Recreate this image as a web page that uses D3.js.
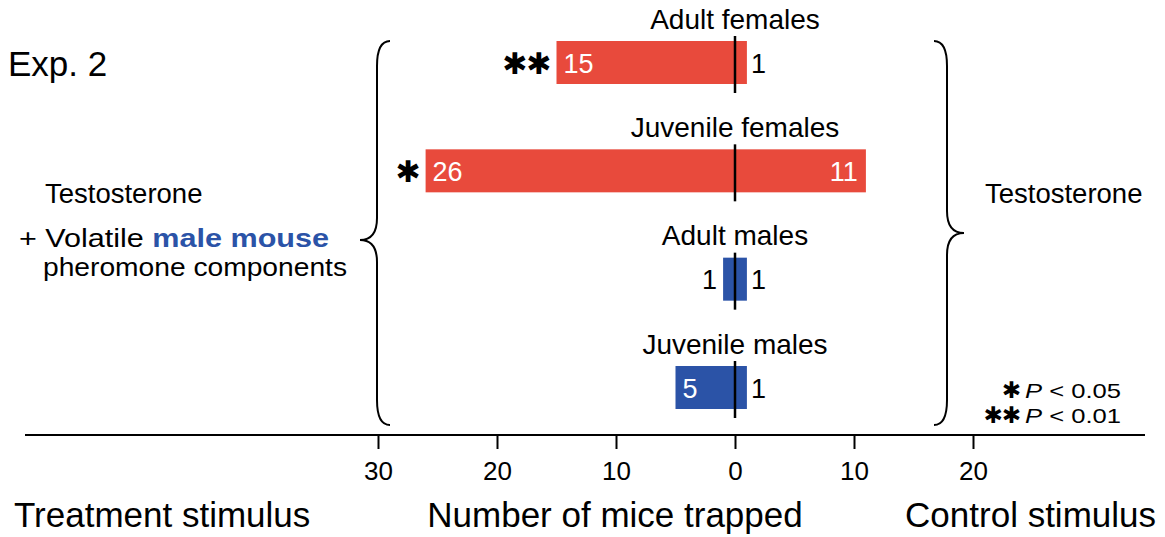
<!DOCTYPE html>
<html>
<head>
<style>
  body {
    background-color: white;
    margin: 0px;
  }
  text {
    font-family: "Liberation Sans", Arial, sans-serif;
    fill: black;
  }
  .star {
    font-family: "DejaVu Sans", sans-serif;
  }
</style>
<script src="https://d3js.org/d3.v7.min.js"></script>
</head>
<body>
  <svg></svg>
</body>
<script>
// data
const categories = ["Adult females", "Juvenile females", "Adult males", "Juvenile males"];
const treatment = [15, 26, 1, 5];
const control = [1, 11, 1, 1];
const signif = ["\u2731\u2731", "\u2731", "", ""];
const barColors = ["#e84a3c", "#e84a3c", "#2b53a7", "#2b53a7"];
const tickValues = [-30, -20, -10, 0, 10, 20];

const width = 1165,
    height = 537;

const svg = d3.select("svg")
    .attr("width", width)
    .attr("height", height)

// negative = treatment side (left)
const x = d3.scaleLinear().domain([-30, 20]).range([735 - 30 * 11.9, 735 + 20 * 11.9]);
const y = d3.scalePoint().domain(categories).range([62.5, 387.5]);
const barH = 43;

const rows = svg.selectAll("g.row")
    .data(categories)
  .enter().append("g")
    .attr("class", "row")
    .attr("transform", function(d) {return "translate(0," + y(d) + ")"});

rows.append("text")
    .attr("x", x(0))
    .attr("y", -34)
    .attr("text-anchor", "middle")
    .style("font-size", "28px")
    .text(function(d) {return d});

rows.append("rect")
    .attr("x", function(d, i) {return x(-treatment[i])})
    .attr("y", -barH / 2)
    .attr("width", function(d, i) {return x(control[i]) - x(-treatment[i])})
    .attr("height", barH)
    .style("fill", function(d, i) {return barColors[i]});

rows.append("line")
    .attr("x1", x(0)).attr("x2", x(0))
    .attr("y1", -barH / 2 - 5)
    .attr("y2", barH / 2 + 9)
    .style("stroke", "black")
    .style("stroke-width", 2.5);

// treatment count labels
rows.append("text")
    .attr("x", function(d, i) {
      return treatment[i] >= 3 ? x(-treatment[i]) + 7 : x(-treatment[i]) - 6;
    })
    .attr("y", 10)
    .attr("text-anchor", function(d, i) {return treatment[i] >= 3 ? "start" : "end"})
    .style("font-size", "27px")
    .style("fill", function(d, i) {return treatment[i] >= 3 ? "white" : "black"})
    .text(function(d, i) {return treatment[i]});

// control count labels
rows.append("text")
    .attr("x", function(d, i) {
      return control[i] >= 3 ? x(control[i]) - 8 : x(control[i]) + 4;
    })
    .attr("y", 10)
    .attr("text-anchor", function(d, i) {return control[i] >= 3 ? "end" : "start"})
    .style("font-size", "27px")
    .style("fill", function(d, i) {return control[i] >= 3 ? "white" : "black"})
    .text(function(d, i) {return control[i]});

rows.append("text")
    .attr("class", "star")
    .attr("x", function(d, i) {return x(-treatment[i]) - 6})
    .attr("y", 11)
    .attr("text-anchor", "end")
    .style("font-size", "30px")
    .style("letter-spacing", "-1px")
    .text(function(d, i) {return signif[i]});

// braces
function brace(xEnd, xSpine, xTip, yTop, yMid, yBot) {
  const p = d3.path();
  p.moveTo(xEnd, yTop);
  p.quadraticCurveTo(xSpine, yTop, xSpine, yTop + 25);
  p.lineTo(xSpine, yMid - 22);
  p.quadraticCurveTo(xSpine, yMid, xTip, yMid);
  p.quadraticCurveTo(xSpine, yMid, xSpine, yMid + 22);
  p.lineTo(xSpine, yBot - 25);
  p.quadraticCurveTo(xSpine, yBot, xEnd, yBot);
  return p.toString();
}
svg.append("path")
    .attr("d", brace(390, 377, 360, 41, 240, 425))
    .style("fill", "none").style("stroke", "black").style("stroke-width", 2);
svg.append("path")
    .attr("d", brace(934, 947, 964, 41, 233, 425))
    .style("fill", "none").style("stroke", "black").style("stroke-width", 2);

// axis
const axisY = 435;
svg.append("line")
    .attr("x1", 25).attr("x2", 1145)
    .attr("y1", axisY).attr("y2", axisY)
    .style("stroke", "black").style("stroke-width", 2);

const axis = svg.append("g")
    .attr("transform", "translate(0," + axisY + ")")
    .call(d3.axisBottom(x).tickValues(tickValues).tickSize(14).tickPadding(13)
      .tickFormat(function(d) {return Math.abs(d)}));
axis.select(".domain").remove();
axis.selectAll(".tick line").style("stroke-width", 2);
axis.selectAll(".tick text")
    .style("font-size", "26px")
    .style("font-family", "'Liberation Sans', Arial, sans-serif");

// side texts
svg.append("text").attr("x", 8).attr("y", 76).style("font-size", "35px").text("Exp. 2");
svg.append("text").attr("x", 985).attr("y", 203).style("font-size", "27.5px").text("Testosterone");
svg.append("text").attr("x", 45).attr("y", 203).style("font-size", "27.5px").text("Testosterone");

const t2 = svg.append("text").attr("x", 19).attr("y", 247)
    .attr("textLength", 310).attr("lengthAdjust", "spacingAndGlyphs")
    .style("font-size", "25px");
t2.append("tspan").text("+ Volatile ");
t2.append("tspan").style("font-weight", "bold").style("fill", "#2b53a7").text("male mouse");
svg.append("text").attr("x", 43).attr("y", 276)
    .attr("textLength", 304).attr("lengthAdjust", "spacingAndGlyphs")
    .style("font-size", "25px").text("pheromone components");

// significance key
[["\u2731", "0.05"], ["\u2731\u2731", "0.01"]].forEach(function(k, i) {
  const ky = 398 + i * 25;
  svg.append("text").attr("class", "star")
      .attr("x", 1020).attr("y", ky)
      .attr("text-anchor", "end")
      .style("font-size", "23px")
      .style("letter-spacing", "-1px").text(k[0]);
  const t = svg.append("text").attr("x", 1025).attr("y", ky)
      .attr("textLength", 96).attr("lengthAdjust", "spacingAndGlyphs")
      .style("font-size", "21px");
  t.append("tspan").style("font-style", "italic").text("P");
  t.append("tspan").text(" < " + k[1]);
});

// bottom titles
svg.append("text").attr("x", 14).attr("y", 527).style("font-size", "35px").text("Treatment stimulus");
svg.append("text").attr("x", 615).attr("y", 527).attr("text-anchor", "middle").style("font-size", "35px").text("Number of mice trapped");
svg.append("text").attr("x", 1156).attr("y", 527).attr("text-anchor", "end").style("font-size", "35px").text("Control stimulus");
</script>
</html>
